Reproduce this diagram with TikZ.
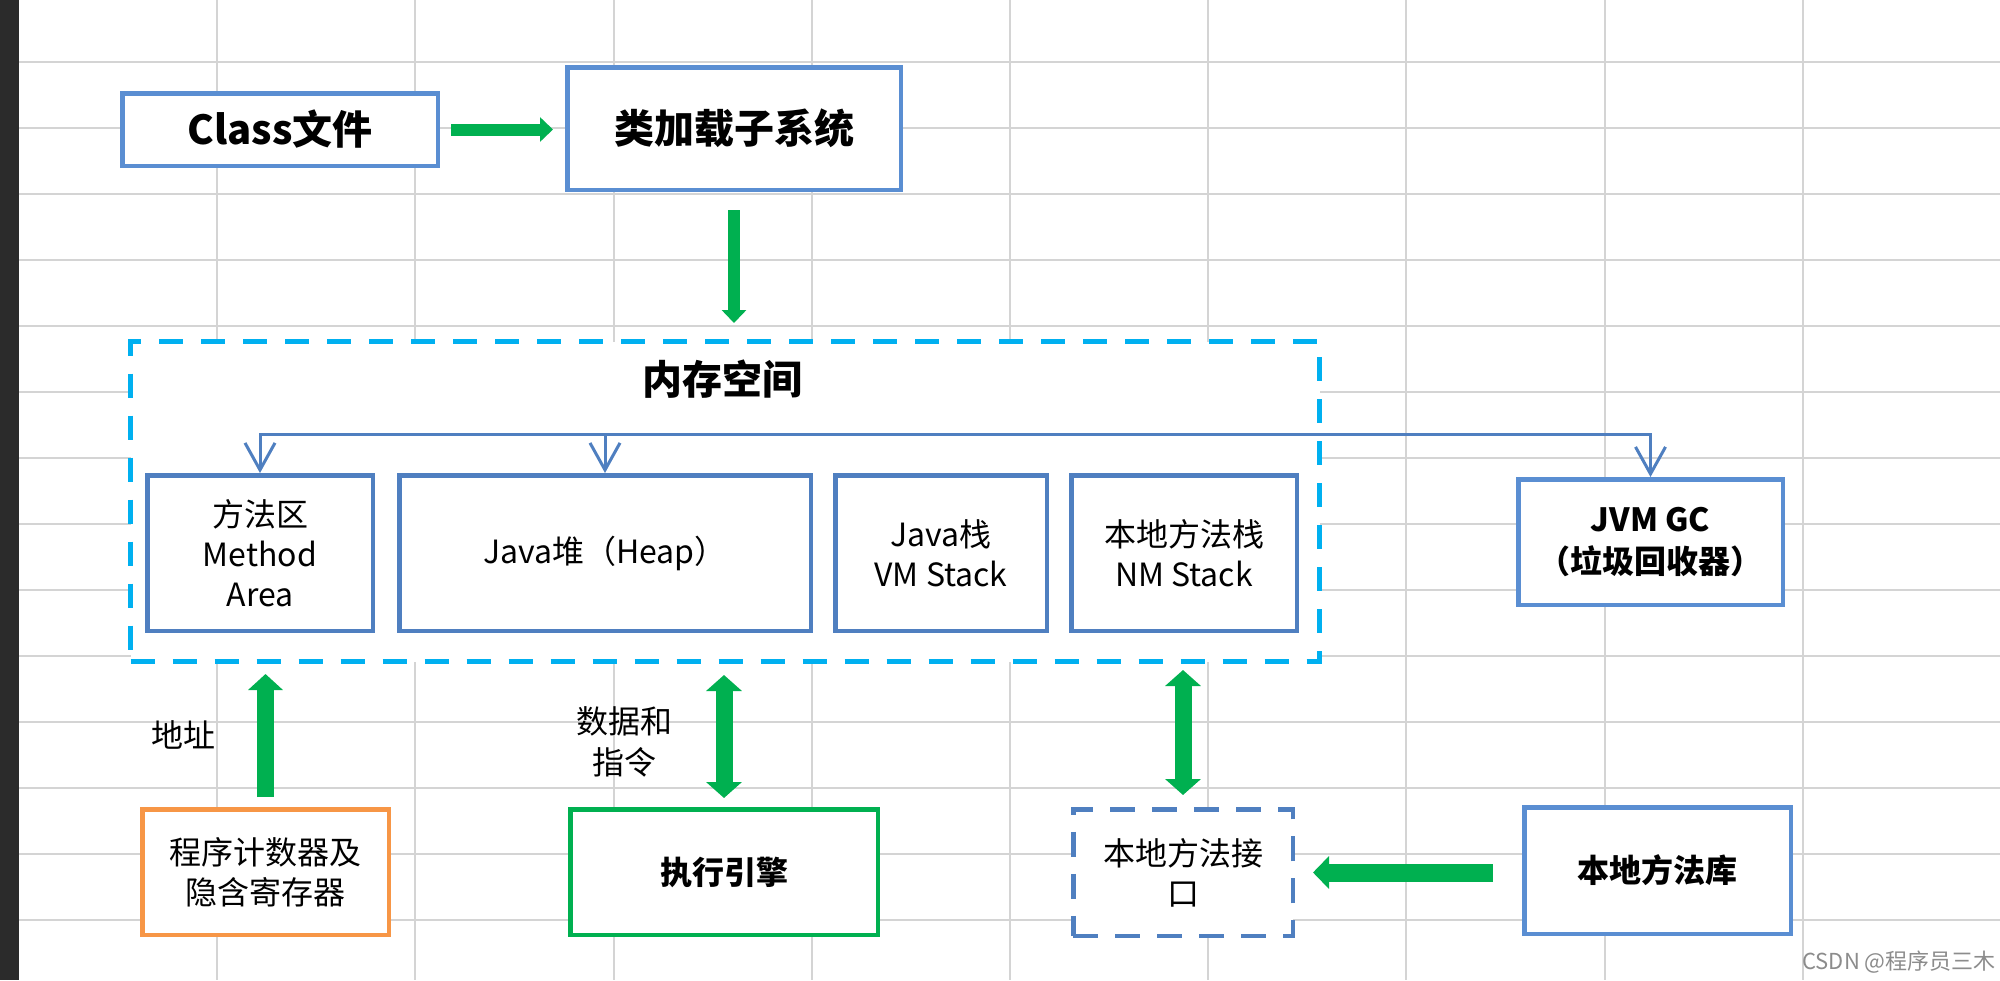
\documentclass[tikz,border=0pt]{standalone}
\usepackage{fontspec}
\setmainfont{Noto Sans CJK SC}
\usetikzlibrary{arrows.meta}
\definecolor{gridc}{HTML}{D4D4D4}
\definecolor{stripc}{HTML}{2B2B2B}
\definecolor{outerblue}{HTML}{5A8ED2}
\definecolor{innerblue}{HTML}{4F7FC0}
\definecolor{memcyan}{HTML}{00B0F0}
\definecolor{okgreen}{HTML}{00B050}
\definecolor{pcorange}{HTML}{F79646}
\newcommand\fsreg{\fontsize{32}{40}\selectfont}
\newcommand\fsbold{\fontsize{32}{42}\selectfont\bfseries}
\newcommand\fsbig{\fontsize{40}{48}\selectfont\bfseries}
\begin{document}
\begin{tikzpicture}[x=1pt,y=-1pt,
  gridline/.style={draw=gridc, line width=2pt},
  box/.style={rectangle, draw=outerblue, line width=4.5pt, fill=white, inner sep=0pt, align=center},
  inbox/.style={box, draw=innerblue, font=\fsreg},
  memframe/.style={rectangle, draw=memcyan, line width=5pt, fill=white, dash pattern=on 24pt off 18pt, inner sep=0pt},
  nifbox/.style={box, draw=innerblue, dash pattern=on 25pt off 17pt},
  thinarrow/.style={draw=okgreen, line width=12pt, -{Triangle[length=13pt,width=24pt]}},
  fatarrow/.style={draw=okgreen, line width=17pt, -{Triangle[length=16pt,width=34pt]}},
  fatboth/.style={draw=okgreen, line width=17pt, {Triangle[length=16pt,width=35pt]}-{Triangle[length=16pt,width=35pt]}},
  busline/.style={draw=innerblue, line width=3pt},
  busarrow/.style={busline, -{Straight Barb[length=27pt,width=30pt]}},
  lbl/.style={font=\fsreg, align=center, inner sep=0pt}
]
\useasboundingbox (0,0) rectangle (2000,980);
\fill[white] (0,0) rectangle (2000,980);
% grid
\foreach \i in {0,...,8} \draw[gridline] ({217.2+198.2*\i},0) -- ({217.2+198.2*\i},980);
\foreach \j in {0,...,13} \draw[gridline] (19,{62+66*\j}) -- (2000,{62+66*\j});
\fill[stripc] (0,0) rectangle (19,980);

% top row
\node[box, minimum width=315.5pt, minimum height=72.5pt, font=\fsbig] (cls) at (280,129.5) {Class文件};
\node[box, minimum width=333.5pt, minimum height=122.5pt, font=\fsbig] (loader) at (734,128.5) {类加载子系统};

% memory area
\node[memframe, minimum width=1189pt, minimum height=320pt] (mem) at (725,501.5) {};
\node[font=\fsbig, inner sep=0pt] (memtitle) at (722,379) {内存空间};
\node[inbox, minimum width=225.5pt, minimum height=155.5pt] (method) at (260,553) {方法区\\Method\\Area};
\node[inbox, minimum width=411.5pt, minimum height=155.5pt] (heap) at (605,553) {Java堆（Heap）};
\node[inbox, minimum width=211.5pt, minimum height=155.5pt] (jstack) at (941,553) {Java栈\\VM Stack};
\node[inbox, minimum width=225.5pt, minimum height=155.5pt] (nstack) at (1184,553) {本地方法栈\\NM Stack};
\node[box, minimum width=264.5pt, minimum height=125.5pt, font=\fsbold] (gc) at (1650.5,542) {JVM GC\\（垃圾回收器）};

% bottom row
\node[box, draw=pcorange, minimum width=246.5pt, minimum height=125.5pt, font=\fsreg] (pc) at (265.5,872) {程序计数器及\\隐含寄存器};
\node[box, draw=okgreen, minimum width=307.5pt, minimum height=125.5pt, font=\fsbold] (exec) at (724,872) {执行引擎};
\node[nifbox, minimum width=219.5pt, minimum height=126.5pt, font=\fsreg] (nif) at (1183,872.5) {本地方法接\\口};
\node[box, minimum width=266.5pt, minimum height=126.5pt, font=\fsbold] (nlib) at (1657.5,870.5) {本地方法库};

% bus
\coordinate (bus) at (0,434);
\draw[busarrow] (gc.north |- bus) -- (method.north |- bus) -- (method.north);
\draw[busarrow] (method.north |- bus) -- (gc.north |- bus) -- (gc.north);
\draw[busarrow] (heap.north |- bus) -- (heap.north);

% green arrows
\draw[thinarrow, shorten <=11pt, shorten >=12pt] (cls.east) -- (cls.east -| loader.west);
\draw[thinarrow, shorten <=18pt, shorten >=16pt] (loader.south) -- (loader.south |- mem.north);
\draw[fatarrow, shorten <=10pt, shorten >=10pt] (pc.north) -- (pc.north |- mem.south);
\draw[fatboth, shorten <=9pt, shorten >=11pt] (exec.north) -- (exec.north |- mem.south);
\draw[fatboth, shorten <=12pt, shorten >=6pt] (nif.north) -- (nif.north |- mem.south);
\draw[{Triangle[length=16pt,width=32pt]}-, draw=okgreen, line width=18pt, shorten <=18pt, shorten >=29pt] (nif.east) -- (nif.east -| nlib.west);

% labels
\node[lbl] (addr) at (183,735) {地址};
\node[lbl, font=\fontsize{32}{41}\selectfont] (data) at (624,742) {数据和\\指令};
\node[inner sep=0pt, text=black!45, font=\fontsize{22}{26}\selectfont] (wm) at (1899,962) {CSDN @程序员三木};
\end{tikzpicture}
\end{document}
